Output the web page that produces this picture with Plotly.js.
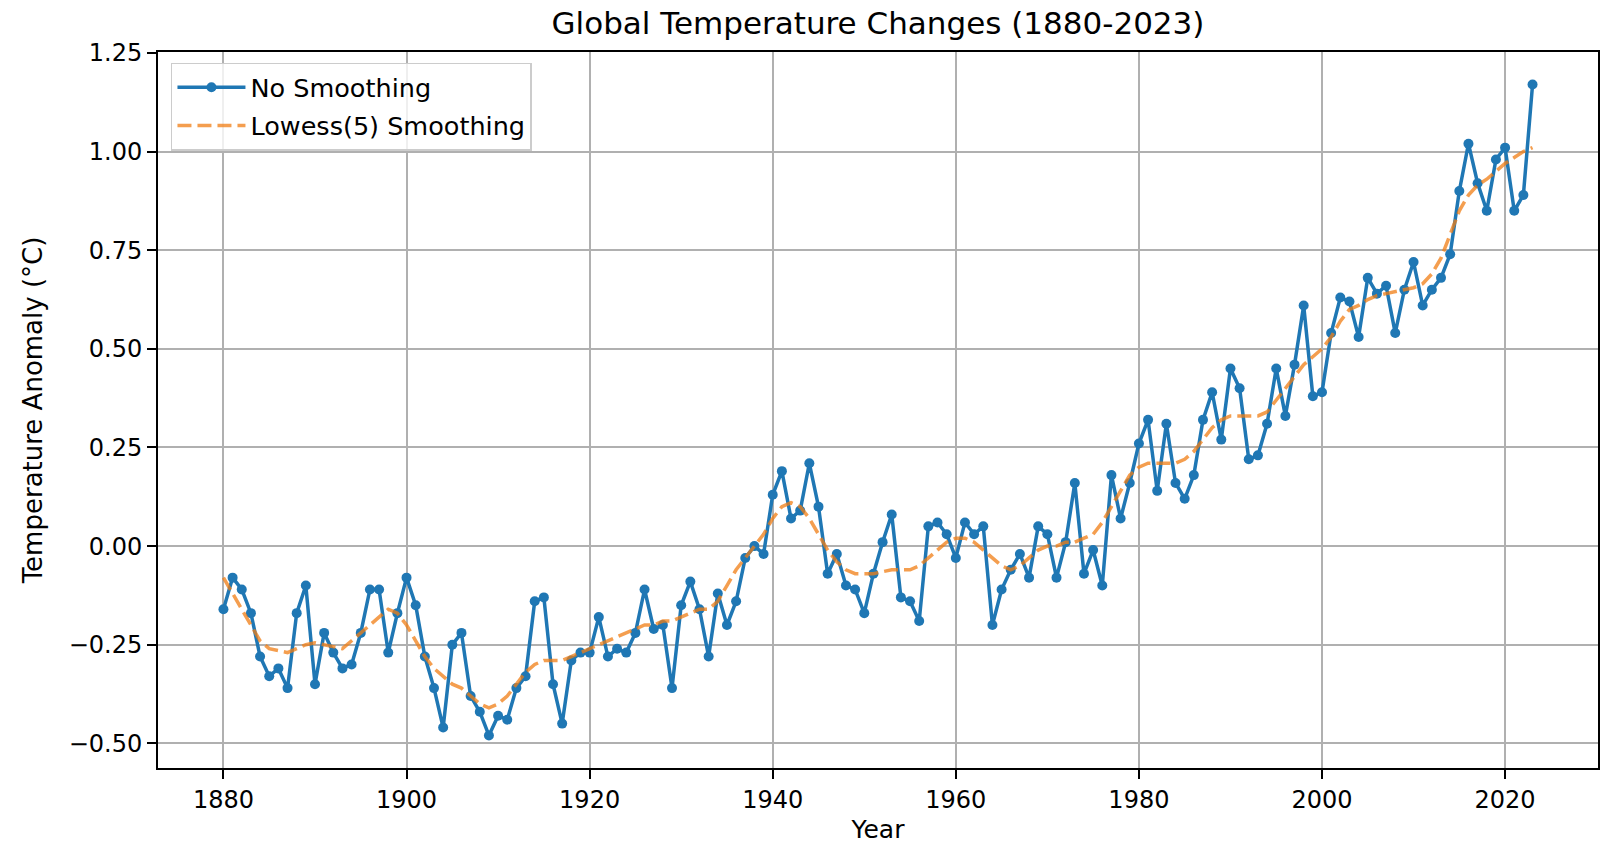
<!DOCTYPE html>
<html>
<head>
<meta charset="utf-8">
<script src="https://cdn.plot.ly/plotly-3.0.1.min.js"></script>
<style>html,body{margin:0;padding:0;background:#fff;}#chart{width:1601px;height:844px;}</style>
</head>
<body>
<div id="chart"></div>
<script>
var years = [];
for (var y = 1880; y <= 2023; y++) years.push(y);

var anomaly = [
 -0.16,-0.08,-0.11,-0.17,-0.28,-0.33,-0.31,-0.36,-0.17,-0.10,
 -0.35,-0.22,-0.27,-0.31,-0.30,-0.22,-0.11,-0.11,-0.27,-0.17,
 -0.08,-0.15,-0.28,-0.36,-0.46,-0.25,-0.22,-0.38,-0.42,-0.48,
 -0.43,-0.44,-0.36,-0.33,-0.14,-0.13,-0.35,-0.45,-0.29,-0.27,
 -0.27,-0.18,-0.28,-0.26,-0.27,-0.22,-0.11,-0.21,-0.20,-0.36,
 -0.15,-0.09,-0.16,-0.28,-0.12,-0.20,-0.14,-0.03,0.00,-0.02,
 0.13,0.19,0.07,0.09,0.21,0.10,-0.07,-0.02,-0.10,-0.11,
 -0.17,-0.07,0.01,0.08,-0.13,-0.14,-0.19,0.05,0.06,0.03,
 -0.03,0.06,0.03,0.05,-0.20,-0.11,-0.06,-0.02,-0.08,0.05,
 0.03,-0.08,0.01,0.16,-0.07,-0.01,-0.10,0.18,0.07,0.16,
 0.26,0.32,0.14,0.31,0.16,0.12,0.18,0.32,0.39,0.27,
 0.45,0.40,0.22,0.23,0.31,0.45,0.33,0.46,0.61,0.38,
 0.39,0.54,0.63,0.62,0.53,0.68,0.64,0.66,0.54,0.65,
 0.72,0.61,0.65,0.68,0.74,0.90,1.02,0.92,0.85,0.98,
 1.01,0.85,0.89,1.17
];

var lowess = [
 -0.08,-0.12,-0.16,-0.20,-0.24,-0.26,-0.265,-0.27,-0.26,-0.25,
 -0.245,-0.25,-0.255,-0.26,-0.24,-0.22,-0.20,-0.18,-0.16,-0.17,
 -0.20,-0.24,-0.28,-0.31,-0.33,-0.35,-0.36,-0.38,-0.40,-0.41,
 -0.40,-0.38,-0.35,-0.32,-0.30,-0.29,-0.29,-0.29,-0.28,-0.27,
 -0.26,-0.25,-0.24,-0.23,-0.22,-0.21,-0.20,-0.20,-0.19,-0.19,
 -0.18,-0.17,-0.16,-0.16,-0.14,-0.10,-0.06,-0.03,0.00,0.03,
 0.07,0.10,0.11,0.10,0.07,0.03,-0.01,-0.04,-0.06,-0.07,
 -0.07,-0.07,-0.065,-0.06,-0.06,-0.06,-0.05,-0.03,-0.01,0.01,
 0.02,0.02,0.01,-0.01,-0.03,-0.05,-0.06,-0.05,-0.03,-0.01,
 0.00,0.00,0.01,0.01,0.02,0.03,0.06,0.10,0.14,0.18,
 0.20,0.21,0.21,0.21,0.21,0.22,0.24,0.27,0.30,0.32,
 0.33,0.33,0.33,0.33,0.34,0.37,0.40,0.43,0.46,0.48,
 0.50,0.53,0.57,0.60,0.61,0.625,0.635,0.64,0.645,0.65,
 0.655,0.665,0.69,0.73,0.79,0.85,0.89,0.915,0.93,0.95,
 0.97,0.985,1.00,1.01
];

var xTicks = [1880,1900,1920,1940,1960,1980,2000,2020];
var yTicks = [-0.5,-0.25,0,0.25,0.5,0.75,1.0,1.25];

var FONT = "DejaVu Sans, sans-serif";

var traces = [
  {
    x: years, y: anomaly, name: "No Smoothing", type: "scatter", mode: "lines+markers",
    legendgroup: "a",
    line: {color: "#1f77b4", width: 3.5},
    marker: {color: "#1f77b4", size: 10}
  },
  {
    x: years, y: lowess, name: "Lowess(5) Smoothing", type: "scatter", mode: "lines",
    legendgroup: "b",
    line: {color: "rgba(240,125,20,0.75)", width: 3.5, dash: "14px,6px"}
  }
];

var axisCommon = {
  showline: true, linecolor: "#000", linewidth: 2, mirror: true,
  showgrid: true, gridcolor: "#b0b0b0", gridwidth: 2,
  zeroline: false,
  ticks: "outside", ticklen: 9, tickwidth: 2, tickcolor: "#000",
  tickfont: {family: FONT, size: 24, color: "#000"}
};

var layout = {
  width: 1601, height: 844,
  paper_bgcolor: "#fff", plot_bgcolor: "#fff",
  margin: {l: 158, r: 3, t: 52, b: 76},
  font: {family: FONT, color: "#000"},
  title: {text: "Global Temperature Changes (1880-2023)", font: {family: FONT, size: 31, color: "#000"},
          x: 0.5, xref: "paper", xanchor: "center", y: 0.973, yref: "container", yanchor: "middle"},
  xaxis: Object.assign({}, axisCommon, {
    range: [1872.85, 2030.15], tickvals: xTicks, ticktext: xTicks.map(String),
    title: {text: "Year", font: {family: FONT, size: 25, color: "#000"}, standoff: 18}
  }),
  yaxis: Object.assign({}, axisCommon, {
    range: [-0.5625, 1.2525], tickvals: yTicks, tickformat: ".2f",
    title: {text: "Temperature Anomaly (°C)", font: {family: FONT, size: 26, color: "#000"}, standoff: 19}
  }),
  showlegend: true,
  legend: {
    x: 0.009, y: 0.985, xanchor: "left", yanchor: "top",
    traceorder: "grouped", tracegroupgap: 2, itemwidth: 68,
    bgcolor: "rgba(255,255,255,0.8)", bordercolor: "#cccccc", borderwidth: 1.5,
    font: {family: FONT, size: 25.5, color: "#000"}
  }
};

Plotly.newPlot("chart", traces, layout, {displayModeBar: false, staticPlot: true});
</script>
</body>
</html>
